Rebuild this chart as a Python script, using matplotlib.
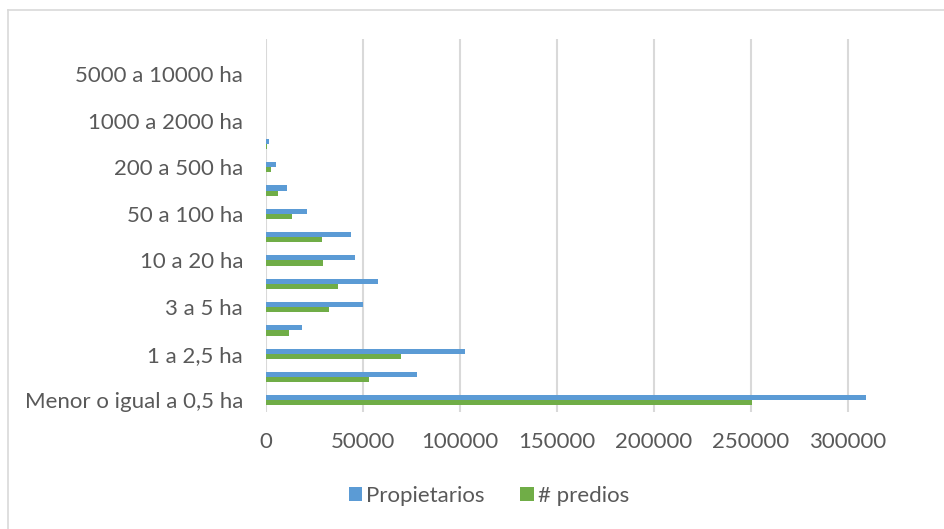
import matplotlib
matplotlib.use("Agg")
import matplotlib.pyplot as plt
from matplotlib.lines import Line2D
from matplotlib.patches import Patch
import numpy as np

categories = ["Menor o igual a 0,5 ha", "0,5 a 1 ha", "1 a 2,5 ha", "2,5 a 3 ha",
              "3 a 5 ha", "5 a 10 ha", "10 a 20 ha", "20 a 50 ha",
              "50 a 100 ha", "100 a 200 ha", "200 a 500 ha", "500 a 1000 ha",
              "1000 a 2000 ha", "2000 a 5000 ha", "5000 a 10000 ha", "Mayor a 10000 ha"]
propietarios = [309200, 77600, 102800, 18700, 49800, 57700, 45900, 43800,
                21300, 10800, 5400, 1450, 250, 60, 20, 10]
predios = [250300, 53100, 69800, 12100, 32600, 37300, 29300, 28700,
           13300, 6100, 2800, 300, 100, 30, 10, 5]
x_ticks = [0, 50000, 100000, 150000, 200000, 250000, 300000]
series_names = ["Propietarios", "# predios"]

BLUE = "#5B9BD5"
GREEN = "#70AD47"
TXT = "#595959"
GRID = "#D9D9D9"
FONT = ["Lato", "DejaVu Sans"]

W, H = 945, 529
fig = plt.figure(figsize=(W / 100, H / 100), dpi=100)

ax = fig.add_axes([266 / W, 1 - 412 / H, (W - 266) / W, (412 - 39) / H])
y = np.arange(len(categories))
bh = 0.22
ax.barh(y + bh / 2, propietarios, height=bh, color=BLUE, zorder=3)
ax.barh(y - bh / 2, predios, height=bh, color=GREEN, zorder=3)

ax.set_xlim(0, 350000)
ax.set_ylim(-0.5, len(categories) - 0.5)
ax.set_xticks(x_ticks)
ax.set_xticklabels([str(v) for v in x_ticks], fontsize=16, color=TXT, family=FONT)
ax.set_yticks(y[::2])
ax.set_yticklabels(categories[::2], fontsize=16, color=TXT, family=FONT)
ax.tick_params(axis="both", length=0)
ax.tick_params(axis="y", pad=16.5)
ax.tick_params(axis="x", pad=14.5)
ax.grid(axis="x", color=GRID, linewidth=1.5, zorder=0)
for s in ax.spines.values():
    s.set_visible(False)

handles = [Patch(facecolor=BLUE, edgecolor="none"), Patch(facecolor=GREEN, edgecolor="none")]
leg = fig.legend(handles, series_names, loc="center", bbox_to_anchor=(489 / W, 1 - 496 / H),
                 ncol=2, frameon=False, prop={"family": FONT, "size": 16},
                 handlelength=0.6, handleheight=0.6, handletextpad=0.2, columnspacing=1.6)
for t in leg.get_texts():
    t.set_color(TXT)

fig.add_artist(Line2D([8.5 / W, 1], [1 - 10 / H, 1 - 10 / H], color=GRID, linewidth=1.2,
                      transform=fig.transFigure))
fig.add_artist(Line2D([8.5 / W, 8.5 / W], [0, 1 - 10 / H], color=GRID, linewidth=1.2,
                      transform=fig.transFigure))

fig.savefig("out.png", dpi=100)
